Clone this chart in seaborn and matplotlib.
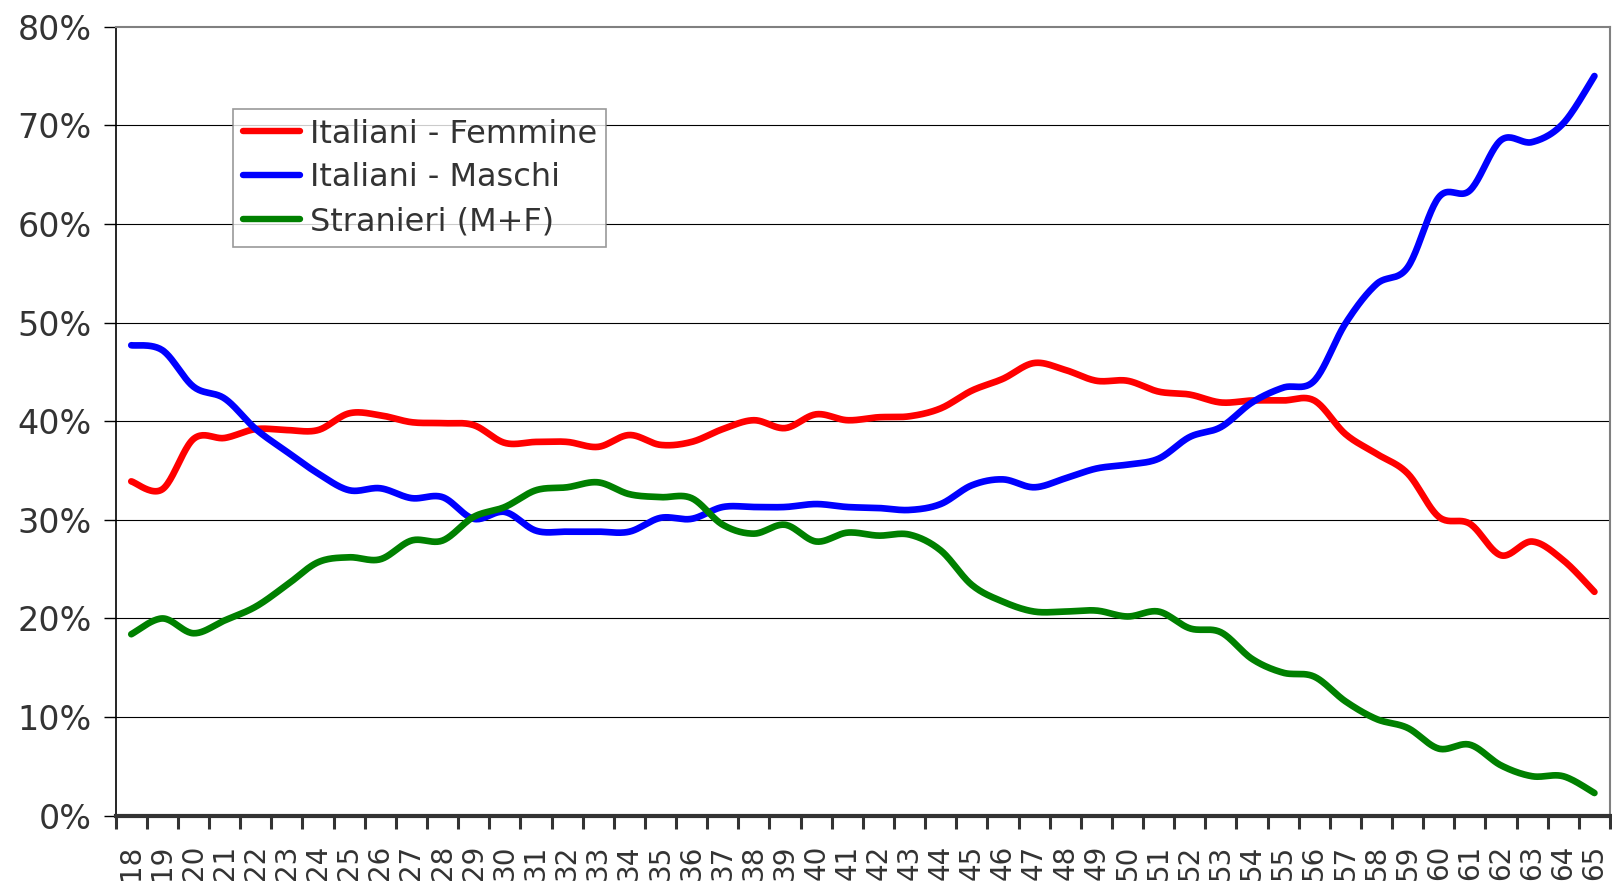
import numpy as np
import pandas as pd
import matplotlib
matplotlib.use("Agg")
import matplotlib.pyplot as plt
import seaborn as sns

# ---- data ----
ages = list(range(18, 66))
labels = ["Italiani - Femmine", "Italiani - Maschi", "Stranieri (M+F)"]
colors = ["#FF0000", "#0000FF", "#008000"]

femmine = [33.9, 33.1, 38.2, 38.3, 39.2, 39.1, 39.1, 40.8, 40.6, 39.9,
           39.8, 39.6, 37.8, 37.9, 37.9, 37.4, 38.6, 37.6, 37.9, 39.2,
           40.1, 39.3, 40.7, 40.1, 40.4, 40.5, 41.3, 43.1, 44.3, 45.9,
           45.2, 44.1, 44.1, 43.0, 42.7, 41.9, 42.1, 42.1, 42.1, 38.7,
           36.7, 34.7, 30.3, 29.6, 26.4, 27.8, 25.9, 22.7]
maschi = [47.7, 47.2, 43.5, 42.3, 39.2, 36.9, 34.7, 33.0, 33.2, 32.2,
          32.3, 30.1, 30.8, 28.9, 28.8, 28.8, 28.8, 30.2, 30.1, 31.3,
          31.3, 31.3, 31.6, 31.3, 31.2, 31.0, 31.6, 33.5, 34.1, 33.3,
          34.2, 35.2, 35.6, 36.2, 38.4, 39.4, 41.9, 43.4, 44.1, 49.9,
          53.9, 55.6, 62.7, 63.4, 68.5, 68.3, 70.2, 75.0]
stranieri = [18.4, 20.0, 18.5, 19.8, 21.2, 23.4, 25.7, 26.2, 26.0, 27.9,
             27.9, 30.3, 31.3, 33.0, 33.3, 33.8, 32.6, 32.3, 32.2, 29.5,
             28.6, 29.5, 27.8, 28.7, 28.4, 28.5, 26.9, 23.4, 21.7, 20.7,
             20.7, 20.8, 20.2, 20.7, 19.0, 18.6, 15.9, 14.5, 14.1, 11.6,
             9.8, 8.9, 6.8, 7.2, 5.1, 4.0, 4.0, 2.3]
yticks = [0, 10, 20, 30, 40, 50, 60, 70, 80]


def smooth_curve(x, y, n=24):
    """Excel-like smoothed line (Bezier through every point)."""
    x = np.asarray(x, float)
    y = np.asarray(y, float)
    xs, ys = [], []
    m = len(x)
    t = np.linspace(0, 1, n, endpoint=False)
    for i in range(m - 1):
        i0 = max(i - 1, 0)
        i3 = min(i + 2, m - 1)
        p0 = np.array([x[i0], y[i0]])
        p1 = np.array([x[i], y[i]])
        p2 = np.array([x[i + 1], y[i + 1]])
        p3 = np.array([x[i3], y[i3]])
        c1 = p1 + (p2 - p0) / 6.0
        c2 = p2 - (p3 - p1) / 6.0
        b = ((1 - t) ** 3)[:, None] * p1 + (3 * (1 - t) ** 2 * t)[:, None] * c1 \
            + (3 * (1 - t) * t ** 2)[:, None] * c2 + (t ** 3)[:, None] * p2
        xs.extend(b[:, 0])
        ys.extend(b[:, 1])
    xs.append(x[-1])
    ys.append(y[-1])
    return np.array(xs), np.array(ys)


sns.set_style("white")
plt.rcParams["font.family"] = ["DejaVu Sans"]

fig = plt.figure(figsize=(16.12, 8.85), dpi=100)
L, R, B, T = 115.7 / 1612, 1610 / 1612, 1 - 815.7 / 885, 1 - 26.7 / 885
ax = fig.add_axes([L, B, R - L, T - B])

for lab, col, vals in zip(labels, colors, [femmine, maschi, stranieri]):
    sx, sy = smooth_curve(ages, vals)
    df = pd.DataFrame({"age": sx, "value": sy})
    sns.lineplot(data=df, x="age", y="value", ax=ax, color=col, linewidth=4.8,
                 sort=False, estimator=None, label=lab,
                 solid_capstyle="round")

ax.set_xlim(17.5, 65.5)
ax.set_ylim(0, 80)
ax.set_xlabel("")
ax.set_ylabel("")

# y axis
ax.set_yticks(yticks)
ax.set_yticklabels([f"{v}%" for v in yticks])
ax.tick_params(axis="y", which="major", length=8.5, width=1.0, color="black",
               labelsize=24, labelcolor="#333333", pad=9, direction="out", left=True)
for v in yticks[1:-1]:
    ax.axhline(v, color="black", linewidth=0.8, zorder=0.5)

# x axis: ticks between categories, labels at centres
ax.set_xticks(np.arange(17.5, 66, 1.0))
ax.set_xticklabels([])
ax.set_xticks(ages, minor=True)
ax.set_xticklabels([str(a) for a in ages], minor=True, rotation=90,
                   fontsize=20)
ax.tick_params(axis="x", which="major", length=9, width=2.2, color="#333333",
               direction="out", bottom=True)
ax.tick_params(axis="x", which="minor", length=0,
               labelcolor="#333333", pad=21, bottom=True)

# spines
ax.spines["bottom"].set_color("#333333")
ax.spines["bottom"].set_linewidth(3.0)
ax.spines["left"].set_color("black")
ax.spines["left"].set_linewidth(1.2)
ax.spines["top"].set_color("#808080")
ax.spines["top"].set_linewidth(1.5)
ax.spines["right"].set_color("#808080")
ax.spines["right"].set_linewidth(1.5)
ax.grid(False)

leg = ax.legend(loc="upper left", bbox_to_anchor=(233 / 1612, 1 - 109 / 885),
                bbox_transform=fig.transFigure, fontsize=23, frameon=True,
                fancybox=False, shadow=False, borderpad=0.3, handlelength=1.8,
                handletextpad=0.3, labelspacing=0.4, borderaxespad=0)
leg.get_frame().set_edgecolor("#808080")
leg.get_frame().set_linewidth(1.2)
for txt in leg.get_texts():
    txt.set_color("#333333")
for h in leg.get_lines():
    h.set_linewidth(4.6)
    h.set_solid_capstyle("round")

fig.savefig("out.png", dpi=100)
